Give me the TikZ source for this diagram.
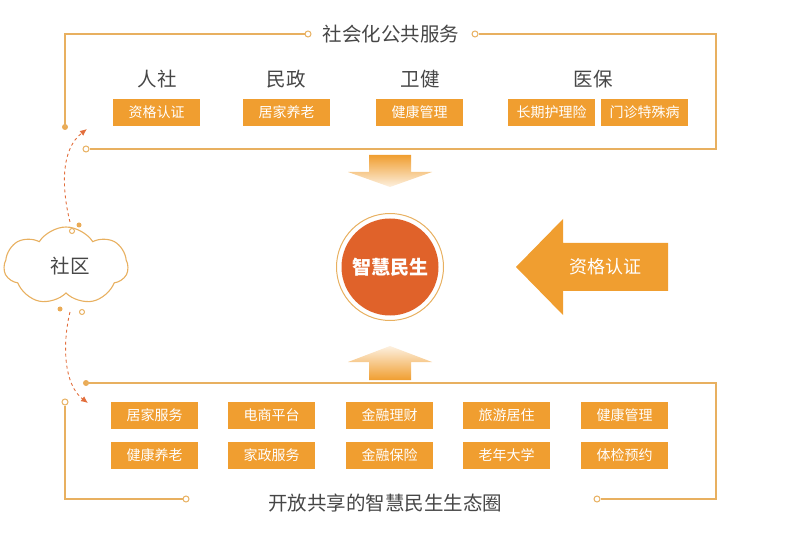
\documentclass[tikz,border=0pt]{standalone}
\usepackage{fontspec}
\setmainfont{Noto Sans CJK SC}
\usetikzlibrary{shapes.symbols,arrows.meta,calc}
\definecolor{boxor}{RGB}{240,158,48}
\definecolor{linegold}{RGB}{232,176,96}
\definecolor{circred}{RGB}{224,98,42}
\definecolor{txt}{RGB}{70,70,70}
\definecolor{dashred}{RGB}{226,110,60}
\tikzset{
  tagbox/.style={fill=boxor, text=white, minimum width=87pt, minimum height=27pt, inner sep=0pt, font=\fontsize{14}{15}\selectfont},
  head/.style={text=txt, font=\fontsize{19.5}{20}\selectfont, inner sep=0pt},
  frame/.style={draw=linegold, line width=1.2pt},
  opendot/.style={circle, draw=linegold, fill=white, line width=1pt, minimum size=6pt, inner sep=0pt},
  fulldot/.style={circle, fill=linegold!90!orange, minimum size=6pt, inner sep=0pt},
  dasharr/.style={draw=dashred, dashed, dash pattern=on 3pt off 3pt, line width=0.9pt},
}
\begin{document}
\begin{tikzpicture}[x=1pt,y=-1pt]
\useasboundingbox (0,0) rectangle (801,540);
% ---------- top frame ----------
\node[head] (ttitle) at (391,34) {社会化公共服务};
\node[opendot] (tl) at (308,34) {};
\node[opendot] (tr) at (475,34) {};
\node[fulldot] (tdot) at (65,127) {};
\node[opendot] (tbot) at (86,149) {};
\coordinate (tc1) at (65,34);
\coordinate (tc2) at (716,34);
\coordinate (tc3) at (716,149);
\draw[frame] (tl.west) -- (tc1) -- (tdot.center);
\draw[frame] (tr.east) -- (tc2) -- (tc3) -- (tbot.east);
\node[head] (h1) at (157,79) {人社};
\node[head] (h2) at (286,79) {民政};
\node[head] (h3) at (420,79) {卫健};
\node[head] (h4) at (593,79) {医保};
\node[tagbox] (a1) at (156.5,112.5) {资格认证};
\node[tagbox] (a2) at (286.5,112.5) {居家养老};
\node[tagbox] (a3) at (419.5,112.5) {健康管理};
\node[tagbox] (a4) at (551.5,112.5) {长期护理险};
\node[tagbox] (a5) at (644.5,112.5) {门诊特殊病};
% ---------- block arrows ----------
\shade[top color=boxor, bottom color=boxor!15] (369,155) -- (411,155) -- (411,172) -- (432,172) -- (390,187) -- (348,172) -- (369,172) -- cycle;
\shade[bottom color=boxor, top color=boxor!15] (369,380) -- (411,380) -- (411,362) -- (432,362) -- (390,346) -- (348,362) -- (369,362) -- cycle;
% ---------- centre circle ----------
\node[circle, draw=linegold, line width=1pt, fill=white, minimum size=107pt, inner sep=0pt] (ring) at (390,267) {};
\node[circle, fill=circred, minimum size=97pt, inner sep=0pt, text=white, font=\bfseries\fontsize{19}{20}\selectfont] (core) at (390,267) {智慧民生};
% ---------- left arrow ----------
\fill[boxor] (516,267) -- (563,219) -- (563,243) -- (668,243) -- (668,291) -- (563,291) -- (563,315) -- cycle;
\node[text=white, font=\fontsize{18}{19}\selectfont, inner sep=0pt] (cert) at (605,267) {资格认证};
% ---------- cloud ----------
\node[cloud, cloud puffs=7, cloud puff arc=115, aspect=1.8, draw=linegold, line width=1.1pt, fill=white, minimum width=124pt, minimum height=78pt, inner sep=0pt] (cloud) at (66,266) {};
\node[head] (ctext) at (70,266) {社区};
\node[opendot, minimum size=5pt] (cd1) at (72,231) {};
\node[fulldot, minimum size=5pt] (cd2) at (79,225) {};
\node[fulldot, minimum size=5pt] (cd3) at (60,309) {};
\node[opendot, minimum size=5pt] (cd4) at (82,312) {};
\coordinate (up0) at (70,222);
\coordinate (up1) at (87,129);
\coordinate (dn0) at (70,312);
\coordinate (dn1) at (88,403);
\draw[dasharr, -{Latex[length=7pt,width=6pt]}] (up0) .. controls (62,190) and (60,150) .. (up1);
\draw[dasharr, -{Latex[length=7pt,width=6pt]}] (dn0) .. controls (62,345) and (64,385) .. (dn1);
% ---------- bottom frame ----------
\node[fulldot] (bdot) at (86,383) {};
\coordinate (bc1) at (716,383);
\coordinate (bc2) at (716,499);
\node[opendot] (br) at (597,499) {};
\node[opendot] (bl) at (65,402) {};
\coordinate (bc3) at (65,499);
\node[opendot] (bl2) at (186,499) {};
\draw[frame] (bdot.center) -- (bc1) -- (bc2) -- (br.east);
\draw[frame] (bl.south) -- (bc3) -- (bl2.west);
\node[head] (btitle) at (385,503) {开放共享的智慧民生生态圈};
\node[tagbox] (b1) at (154.5,415) {居家服务};
\node[tagbox] (b2) at (271.5,415) {电商平台};
\node[tagbox] (b3) at (389.5,415) {金融理财};
\node[tagbox] (b4) at (506.5,415) {旅游居住};
\node[tagbox] (b5) at (624.5,415) {健康管理};
\node[tagbox] (c1) at (154.5,455) {健康养老};
\node[tagbox] (c2) at (271.5,455) {家政服务};
\node[tagbox] (c3) at (389.5,455) {金融保险};
\node[tagbox] (c4) at (506.5,455) {老年大学};
\node[tagbox] (c5) at (624.5,455) {体检预约};
\end{tikzpicture}
\end{document}
